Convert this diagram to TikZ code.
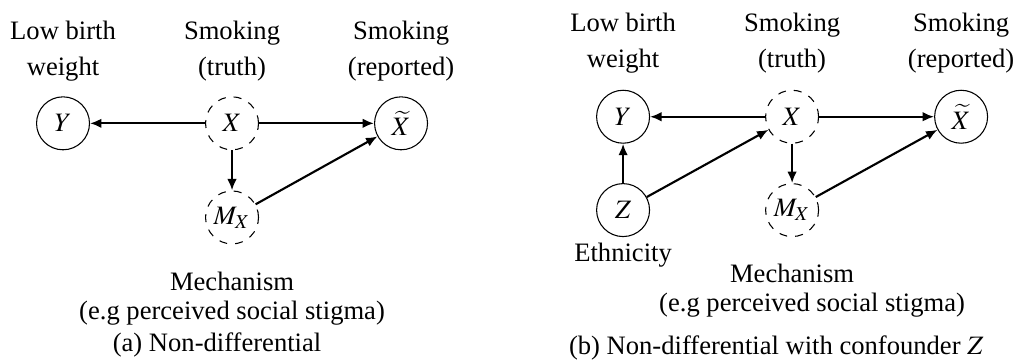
\documentclass[tikz,border=0pt]{standalone}
\usepackage{mathptmx}
\usepackage[no-math]{fontspec}
\setmainfont{Liberation Serif}
\usetikzlibrary{positioning,arrows.meta}

\begin{document}
\begin{tikzpicture}[node distance=1.52cm,
  var/.style={draw, circle, minimum size=0.7cm, inner sep=0pt},
  latent/.style={var, dashed},
  lab/.style={align=center, inner sep=0pt, font=\fontsize{10}{13.5}\selectfont},
  edge/.style={-{Latex[length=4.3pt,width=3.6pt]}, thick}]
\useasboundingbox (0,0) rectangle (13.39,-4.76);
% (a) Non-differential
\node[var] (ya) at (0.833,-1.630) {$Y$};
\node[latent, right=of ya] (xa) {$X$};
\node[var, right=of xa] (xta) {$\widetilde{X}$};
\node[latent, below=0.53cm of xa] (ma) {$M_X$};
% Labels
\node[lab, above=5.4pt of ya] (lya) {Low birth\\weight};
\node[lab, above=5.4pt of xa] (lxa) {Smoking\\(truth)};
\node[lab, above=5.4pt of xta] (lxta) {Smoking\\(reported)};
\node[lab, below=10pt of ma] (mecha) {Mechanism};
\node[lab, anchor=base] (stiga) at ([yshift=-10.9pt]mecha.base) {(e.g perceived social stigma)};
\node[lab, anchor=base] (capa) at (2.869,-4.64) {(a) Non-differential};
% Connections
\draw[edge] (xa) -- (ya);
\draw[edge] (xa) -- (xta);
\draw[edge] (xa) -- (ma);
\draw[edge] (ma) -- (xta);

% (b) Non-differential with confounder Z
\node[var] (yb) at (8.236,-1.543) {$Y$};
\node[latent, right=of yb] (xb) {$X$};
\node[var, right=of xb] (xtb) {$\widetilde{X}$};
\node[var, below=0.52cm of yb] (zb) {$Z$};
\node[latent, below=0.52cm of xb] (mb) {$M_X$};
% Labels
\node[lab, above=6.1pt of yb] (lyb) {Low birth\\weight};
\node[lab, above=6.1pt of xb] (lxb) {Smoking\\(truth)};
\node[lab, above=6.1pt of xtb] (lxtb) {Smoking\\(reported)};
\node[lab, below=2pt of zb] (ethb) {Ethnicity};
\node[lab, below=10pt of mb] (mechb) {Mechanism};
\node[lab, anchor=base] (stigb) at ([xshift=7.5pt,yshift=-10.9pt]mechb.base) {(e.g perceived social stigma)};
\node[lab, anchor=base] (capb) at (10.26,-4.68) {(b) Non-differential with confounder $Z$};
% Connections
\draw[edge] (xb) -- (yb);
\draw[edge] (xb) -- (xtb);
\draw[edge] (xb) -- (mb);
\draw[edge] (mb) -- (xtb);
\draw[edge] (zb) -- (yb);
\draw[edge] (zb) -- (xb);
\end{tikzpicture}
\end{document}
